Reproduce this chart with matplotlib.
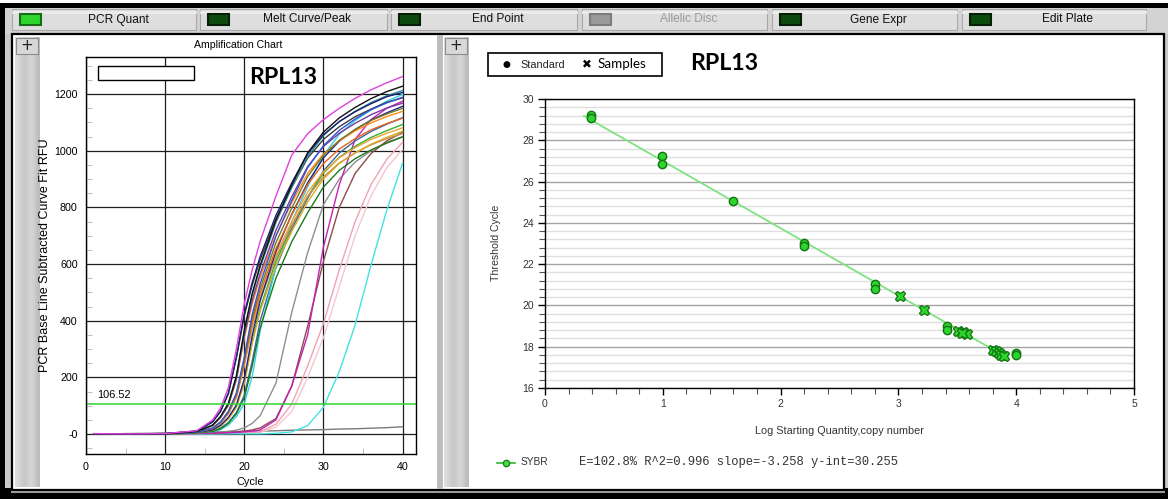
import matplotlib
matplotlib.use('Agg')
import matplotlib.pyplot as plt
from matplotlib.patches import Rectangle
from matplotlib.lines import Line2D
from matplotlib.ticker import MultipleLocator
import numpy as np

W, H = 1168, 499

# ---- amplification chart: RFU at these cycles ----
cycles = [1, 5, 10, 14, 16, 17, 18, 19, 20, 21, 22, 24, 26, 28, 30, 32, 34, 36, 38, 40]
curve_colors = [
    '#7a7a7a', '#f7c6cf', '#f0a2b2', '#42e2e2', '#8e8e8e', '#8c4c4c', '#c422b4',
    '#4262a2', '#33d2e2', '#32b232', '#1b7b1b', '#c98c52', '#d6ac22', '#f2a232',
    '#23238f', '#e2641c', '#ff8c1a', '#7a7a22', '#7b3b9b', '#3c3c3c', '#3355d4',
    '#2a8c9c', '#1c1c6e', '#111111', '#e040e0',
]
curve_rfu = [
    [0, 2, 4, 7, 8, 8, 9, 9, 10, 10, 11, 12, 14, 15, 16, 18, 19, 21, 23, 26],
    [1, 1, 1, 1, 2, 2, 3, 3, 4, 5, 6, 25, 80, 200, 340, 520, 700, 840, 940, 1005],
    [1, 1, 1, 2, 2, 3, 3, 4, 5, 6, 8, 35, 106, 240, 390, 580, 750, 880, 970, 1030],
    [1, 1, 1, 1, 1, 1, 1, 1, 1, 1, 1, 3, 8, 30, 95, 220, 385, 595, 790, 956],
    [1, 1, 2, 4, 6, 8, 10, 14, 22, 38, 65, 180, 430, 640, 810, 900, 960, 1000, 1030, 1050],
    [1, 1, 2, 3, 4, 5, 6, 8, 11, 15, 22, 55, 170, 380, 610, 800, 920, 990, 1035, 1065],
    [1, 1, 1, 2, 3, 4, 5, 6, 8, 11, 15, 50, 170, 350, 660, 880, 1040, 1110, 1150, 1175],
    [1, 1, 1, 4, 10, 21, 41, 76, 137, 257, 399, 587, 724, 832, 929, 992, 1035, 1068, 1094, 1117],
    [1, 1, 1, 4, 9, 16, 32, 62, 108, 203, 363, 590, 750, 873, 984, 1058, 1107, 1144, 1175, 1199],
    [1, 1, 1, 4, 14, 29, 56, 98, 183, 327, 444, 611, 733, 838, 921, 977, 1016, 1047, 1071, 1093],
    [1, 1, 1, 4, 10, 19, 39, 72, 128, 241, 375, 551, 679, 781, 872, 931, 972, 1003, 1027, 1049],
    [1, 1, 1, 5, 19, 39, 72, 129, 242, 376, 473, 624, 736, 839, 908, 957, 992, 1021, 1043, 1061],
    [1, 1, 1, 4, 14, 28, 54, 95, 179, 320, 434, 597, 716, 819, 901, 955, 993, 1023, 1047, 1069],
    [1, 1, 1, 5, 20, 39, 73, 131, 246, 383, 482, 635, 750, 854, 925, 975, 1011, 1040, 1062, 1081],
    [1, 1, 1, 5, 15, 31, 59, 103, 194, 347, 470, 646, 776, 887, 975, 1034, 1075, 1108, 1134, 1157],
    [1, 1, 1, 6, 20, 41, 76, 136, 254, 396, 497, 655, 774, 881, 955, 1006, 1043, 1074, 1096, 1115],
    [1, 1, 1, 8, 30, 58, 101, 190, 339, 460, 552, 702, 817, 920, 989, 1035, 1070, 1098, 1121, 1139],
    [1, 1, 1, 6, 21, 42, 78, 140, 262, 408, 513, 676, 798, 909, 984, 1037, 1075, 1107, 1130, 1150],
    [1, 1, 1, 8, 31, 59, 104, 195, 348, 472, 566, 720, 838, 944, 1015, 1062, 1097, 1127, 1151, 1168],
    [1, 1, 2, 11, 43, 80, 143, 269, 418, 526, 615, 759, 872, 974, 1040, 1085, 1120, 1147, 1171, 1187],
    [1, 1, 1, 6, 22, 43, 81, 145, 271, 422, 530, 699, 825, 940, 1018, 1072, 1112, 1145, 1169, 1189],
    [1, 1, 1, 9, 32, 61, 108, 202, 361, 490, 588, 747, 870, 980, 1054, 1103, 1139, 1170, 1194, 1213],
    [1, 1, 2, 11, 44, 81, 146, 273, 425, 535, 626, 772, 887, 990, 1057, 1103, 1138, 1166, 1191, 1206],
    [1, 1, 1, 9, 32, 62, 109, 205, 366, 496, 595, 756, 880, 992, 1066, 1116, 1153, 1184, 1209, 1228],
    [2, 1, 2, 12, 50, 92, 165, 300, 460, 580, 680, 840, 985, 1060, 1110, 1150, 1185, 1215, 1240, 1262],
]
threshold = 106.52
amp_yticks = [0, 200, 400, 600, 800, 1000, 1200]
amp_yticklabels = ['-0', '200', '400', '600', '800', '1000', '1200']

# ---- standard curve ----
std_log_qty = [0.39, 0.39, 0.99, 0.99, 1.60, 2.20, 2.20, 2.80, 2.80, 3.41, 3.41, 4.00, 4.00]
std_ct = [29.23, 29.08, 27.22, 26.87, 25.04, 23.02, 22.86, 21.05, 20.81, 18.98, 18.79, 17.70, 17.60]
smp_log_qty = [3.01, 3.22, 3.51, 3.55, 3.58, 3.54, 3.80, 3.83, 3.85, 3.87, 3.90]
smp_ct = [20.44, 19.79, 18.78, 18.72, 18.62, 18.68, 17.85, 17.80, 17.70, 17.62, 17.55]
fit_slope = -3.258
fit_intercept = 30.255
fit_range = [0.33, 3.90]
fit_text = "E=102.8% R^2=0.996 slope=-3.258 y-int=30.255"

buttons = ["PCR Quant", "Melt Curve/Peak", "End Point", "Allelic Disc", "Gene Expr", "Edit Plate"]
button_state = ["on", "off", "off", "disabled", "off", "off"]

UI = 'Liberation Sans'

fig = plt.figure(figsize=(W / 100, H / 100), dpi=100)
fig.patch.set_facecolor('#c9c9c9')


def rect(x0, y0, x1, y1, fc, ec='none', lw=0, z=-5):
    fig.add_artist(Rectangle((x0 / W, 1 - y1 / H), (x1 - x0) / W, (y1 - y0) / H,
                             transform=fig.transFigure, facecolor=fc, edgecolor=ec,
                             linewidth=lw, zorder=z))


def text(x, y, s, **kw):
    return fig.text(x / W, 1 - y / H, s, **kw)


def hline(x0, x1, y, color, lw=1, z=-4):
    fig.add_artist(Line2D([x0 / W, x1 / W], [1 - y / H, 1 - y / H],
                          transform=fig.transFigure, color=color, lw=lw, zorder=z))


# window chrome
rect(0, 0, W, 3, 'white')
rect(0, 3, W, 8, 'black')
rect(0, 3, 5, H, 'black')
rect(5, 8, W, 34, '#d3d3d3')
rect(0, 488, W, H, 'black')
hline(12, 1164, 491.5, '#9a9a9a', lw=1.5)

# buttons
btn_x = [(12, 196), (200, 387), (391, 577), (582, 767), (772, 957), (962, 1146)]
for (x0, x1), label, state in zip(btn_x, buttons, button_state):
    rect(x0 + 1, 10, x1 + 1, 31, '#7a7a7a', z=-4)
    rect(x0, 9, x1, 30, '#dedede', ec='#a8a8a8', lw=0.8, z=-3)
    hline(x0 + 1, x1 - 1, 12, '#ececec', lw=2, z=-2)
    if state == 'on':
        led, led_ec = '#2ed52e', '#156e15'
    elif state == 'off':
        led, led_ec = '#0d4a0d', '#061f06'
    else:
        led, led_ec = '#9a9a9a', '#7c7c7c'
    rect(x0 + 8, 13.5, x0 + 29, 25, led, ec=led_ec, lw=1.5, z=-2)
    text((x0 + x1) / 2 + 14, 19.5, label, ha='center', va='center', fontsize=8.6,
         family=UI, color='#9a9a9a' if state == 'disabled' else '#111111')

# panels
rect(12, 34, 440, 490, 'white', ec='black', lw=1.6)
rect(441, 34, 1164, 490, 'white', ec='black', lw=1.6)
rect(437, 35, 443, 489, '#bdbdbd', z=-4)
for sx0, sx1 in [(15, 40), (444, 468)]:
    sb = fig.add_axes([sx0 / W, 1 - 487 / H, (sx1 - sx0) / W, (487 - 37) / H], zorder=-3)
    sb.imshow(np.array([[0.86, 0.82, 0.78, 0.80, 0.84, 0.80, 0.74]]), cmap='gray',
              vmin=0, vmax=1, aspect='auto', interpolation='bilinear')
    sb.axis('off')
for bx0, by0 in [(16, 38), (445, 38)]:
    rect(bx0 + 1, by0 + 1, bx0 + 23, by0 + 17, '#6e6e6e', z=2)
    rect(bx0, by0, bx0 + 22, by0 + 16, '#d8d8d8', ec='#8c8c8c', lw=0.8, z=2)
    text(bx0 + 11, by0 + 8, '+', ha='center', va='center', fontsize=11, family='DejaVu Sans',
         color='#222222', zorder=3)

# ---- amplification chart ----
ax1 = fig.add_axes([86 / W, 1 - 454 / H, 330 / W, (454 - 57.3) / H])
for col, rfu in zip(curve_colors, curve_rfu):
    ax1.plot(cycles, rfu, color=col, lw=1.0)
ax1.axhline(threshold, color='#2ed52e', lw=1.1)
ax1.text(1.4, threshold + 15, f'{threshold:.2f}', fontsize=7.9, family=UI, va='bottom')
ax1.set_xlim(0, 41.7)
ax1.set_ylim(-70, 1330)
ax1.set_xticks([0, 10, 20, 30, 40])
ax1.set_yticks(amp_yticks)
ax1.set_yticklabels(amp_yticklabels)
ax1.xaxis.set_minor_locator(MultipleLocator(5))
ax1.yaxis.set_minor_locator(MultipleLocator(50))
ax1.tick_params(which='major', length=0, labelsize=7.7, pad=6)
ax1.tick_params(which='minor', direction='in', length=4, color='#b5b5b5')
for lab in ax1.get_xticklabels() + ax1.get_yticklabels():
    lab.set_family(UI)
ax1.grid(True, which='major', color='#1e1e1e', lw=0.9)
ax1.set_axisbelow(True)
for sp in ax1.spines.values():
    sp.set_linewidth(1.0)
text(238, 45, 'Amplification Chart', ha='center', va='center', fontsize=7.6, family=UI)
text(45, 255, 'PCR Base Line Subtracted Curve Fit RFU', rotation=90, ha='center', va='center',
     fontsize=9, family=UI)
text(250, 482, 'Cycle', ha='center', va='center', fontsize=7.9, family=UI)
rect(98, 66.5, 194, 80, 'white', ec='black', lw=1.0, z=5)
text(283, 77, 'RPL13', ha='center', va='center', fontsize=16.7, family='Lato',
     weight='bold', zorder=6)

# ---- standard curve ----
ax2 = fig.add_axes([545 / W, 1 - 388 / H, 589 / W, 289 / H])
ax2.plot(fit_range, [fit_intercept + fit_slope * v for v in fit_range], color='#80e280', lw=1.3,
         zorder=3)
ax2.plot(std_log_qty, std_ct, 'o', ms=6, mfc='#2cd42c', mec='#137313', mew=1.0, zorder=4)
ax2.plot(smp_log_qty, smp_ct, 'X', ms=7.5, mfc='#2cd42c', mec='#137313', mew=0.9, zorder=4)
ax2.set_xlim(0, 5)
ax2.set_ylim(16, 30)
ax2.xaxis.set_major_locator(MultipleLocator(1))
ax2.xaxis.set_minor_locator(MultipleLocator(0.2))
ax2.yaxis.set_major_locator(MultipleLocator(2))
ax2.yaxis.set_minor_locator(MultipleLocator(0.4))
ax2.tick_params(which='major', length=5, width=1, pad=3, labelsize=7.5, labelcolor='#333333')
ax2.tick_params(which='minor', length=4, width=0.8, color='#555555')
for lab in ax2.get_xticklabels() + ax2.get_yticklabels():
    lab.set_family(UI)
ax2.grid(True, axis='y', which='minor', color='#dedede', lw=1.0)
ax2.grid(True, axis='y', which='major', color='#a5a5a5', lw=1.0)
ax2.set_axisbelow(True)
for sp in ax2.spines.values():
    sp.set_linewidth(1.0)
text(496, 243, 'Threshold Cycle', rotation=90, ha='center', va='center', fontsize=7.6,
     family=UI, color='#333333')
text(839, 431, 'Log Starting Quantity,copy number', ha='center', va='center', fontsize=7.8,
     family=UI, color='#333333')

# legend box on top
rect(488, 52.5, 662, 76, 'white', ec='black', lw=1.2, z=5)
text(506, 64.5, '●', ha='center', va='center', fontsize=6.5, family='DejaVu Sans', zorder=6)
text(520, 64.5, 'Standard', ha='left', va='center', fontsize=7.8, family=UI, color='#222222',
     zorder=6)
text(587, 64.5, '✖', ha='center', va='center', fontsize=8.5, family='DejaVu Sans', zorder=6)
text(598, 64.5, 'Samples', ha='left', va='center', fontsize=9.6, family='Lato', zorder=6)
text(724, 63, 'RPL13', ha='center', va='center', fontsize=16.7, family='Lato', weight='bold',
     zorder=6)

# fit legend at bottom
fig.add_artist(Line2D([497 / W, 515 / W], [1 - 463 / H, 1 - 463 / H], transform=fig.transFigure,
                      color='#2cb82c', lw=1.2))
fig.add_artist(Line2D([506 / W], [1 - 463 / H], transform=fig.transFigure, color='#2cb82c',
                      marker='o', ms=4.5, mfc='#4fdc4f', mec='#178317', lw=0))
text(521, 462, 'SYBR', ha='left', va='center', fontsize=7.3, family=UI, color='#333333')
text(579, 462, fit_text, ha='left', va='center', fontsize=8.7, family='Liberation Mono',
     color='#333333')

fig.savefig('out.png', dpi=100, facecolor=fig.get_facecolor())
